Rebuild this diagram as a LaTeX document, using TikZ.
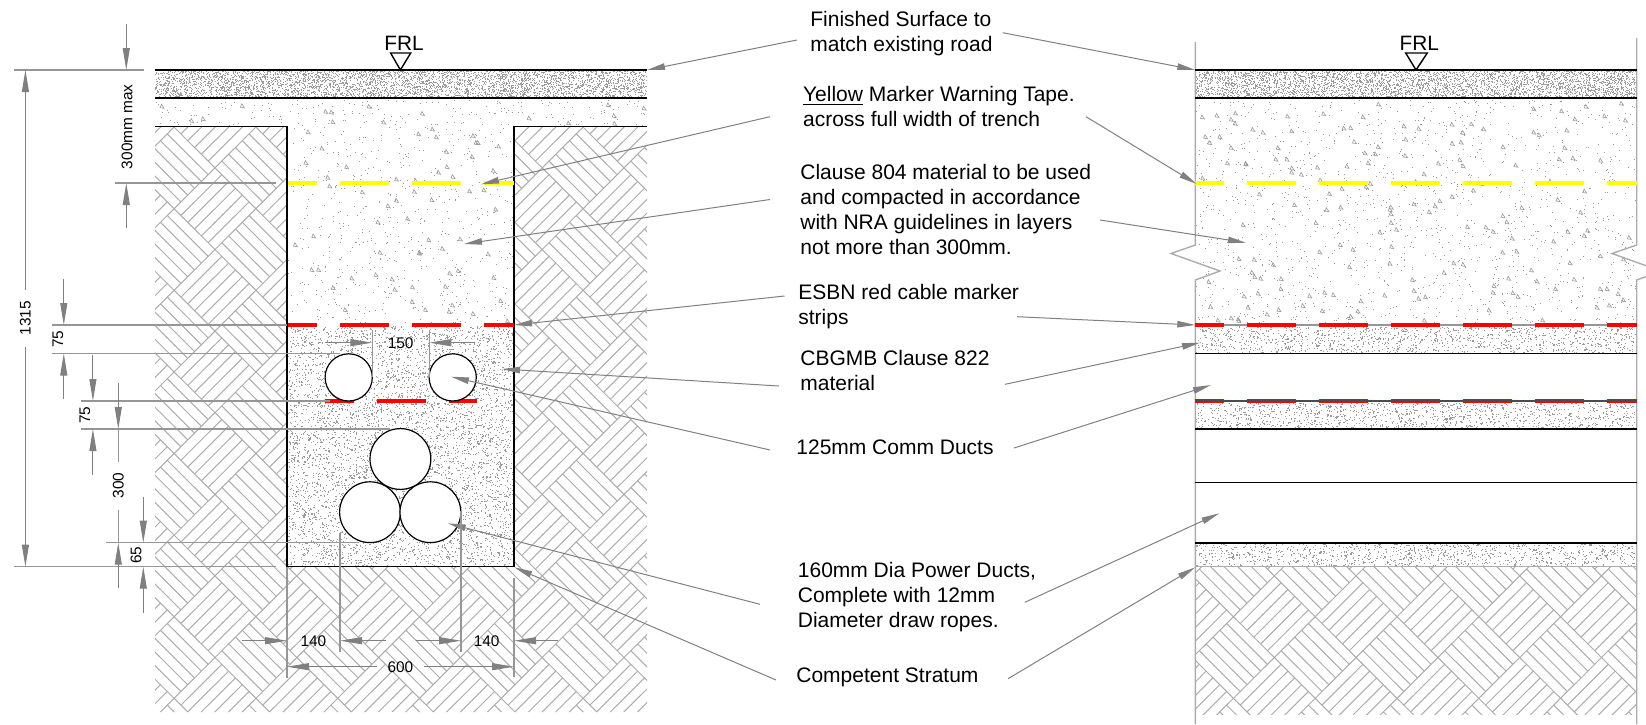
\documentclass[tikz,border=0pt]{standalone}
\usepackage{fontspec}
\usepackage{color}
\usetikzlibrary{arrows.meta}
\setmainfont{Liberation Sans}
\definecolor{hatchgrey}{RGB}{172,172,172}
\definecolor{leadgrey}{RGB}{128,128,128}
\definecolor{extgrey}{RGB}{150,150,150}
\definecolor{speckgrey}{RGB}{155,155,155}
\definecolor{tapeyellow}{RGB}{255,255,0}
\definecolor{tapered}{RGB}{255,0,0}

\tikzset{
	noteline/.style={leadgrey,line width=.5pt,-{Triangle[length=9pt,width=3.2pt]}},
	dimline/.style={leadgrey,line width=.5pt,-{Triangle[length=11pt,width=3.5pt]}},
	extline/.style={extgrey,line width=.65pt},
	wallline/.style={black,line width=.7pt},
	roadline/.style={black,line width=.95pt},
	sideline/.style={hatchgrey,line width=.7pt},
	tape/.style={line width=2pt,dash pattern=on 24.5pt off 11.5pt,dash phase=10pt},
	duct/.style={draw=black,fill=white,circle,line width=.6pt,inner sep=0pt},
	note/.style={anchor=west,align=left,inner sep=0pt,font=\fontsize{10.5}{12.5}\selectfont},
	dimtext/.style={inner sep=0pt,font=\fontsize{7.7}{9}\selectfont},
	levelmark/.style={inner sep=0pt,font=\fontsize{10.4}{12}\selectfont}
}

% #5 is the number of batches of 100 dots
\newcommand{\speckle}[6]{\foreach \j in {1,...,#5}{\draw[speckgrey,line width=#6*.5pt] \foreach \i in {1,...,100}{({#1+rnd*#3},{#2+rnd*#4}) -- ++(#6,0)};}}
\newcommand{\pebbles}[5]{\draw[speckgrey,line width=.3pt] \foreach \i in {1,...,#5}{({#1+rnd*#3},{#2+rnd*#4}) -- ++(4,.6) -- ++(-2.6,-4) -- cycle};}
\newcommand{\earthblocks}[6]{\foreach \k in {#3,...,#4}{\foreach \m in {#5,...,#6}{\draw[hatchgrey,line width=.5pt] \foreach \i in {0,...,6}{
	({#1+81.8*\k-40.9+6.817*\i},{#2+81.6*\m+6.8*\i}) -- ++(40.9,-40.8)
	({#1+81.8*\k+40.9-6.817*\i},{#2+81.6*\m+6.8*\i}) -- ++(40.9,40.8)
};}}}

\begin{document}
\begin{tikzpicture}[x=.5pt,y=-.5pt]
	\useasboundingbox (0,0) rectangle (1646,724);
	\pgfmathsetseed{7}

	% fill of the two sections
	\speckle{155}{71}{491}{27}{46}{1}
	\speckle{1195}{71}{440}{27}{41}{1}
	\speckle{288}{326}{225}{240}{56}{1.1}
	\speckle{1196}{327}{439}{26}{12}{1.1}
	\speckle{1196}{403}{439}{26}{12}{1.1}
	\speckle{1196}{544}{439}{22}{10}{1.1}
	\speckle{155}{100}{491}{26}{2}{.9}
	\speckle{288}{127}{225}{198}{6}{.9}
	\speckle{1196}{100}{439}{225}{14}{.9}
	\pebbles{155}{104}{488}{22}{16}
	\pebbles{290}{127}{218}{196}{60}
	\pebbles{1198}{104}{432}{220}{170}

	% ground
	\begin{scope}
		\clip (155,127) -- (287,127) -- (287,567) -- (514,567) -- (514,127) -- (647,127) -- (647,712) -- (155,712) -- cycle;
		\earthblocks{215}{616.7}{-1}{5}{-6}{1}
	\end{scope}
	\begin{scope}
		\clip (1195.3,567) rectangle (1636.7,714);
		\earthblocks{1274.3}{616.7}{-1}{4}{-1}{1}
	\end{scope}

	% left section
	\coordinate (roadA) at (155,70);
	\coordinate (roadB) at (647,70);
	\coordinate (baseA) at (155,98.4);
	\coordinate (baseB) at (647,98.4);
	\coordinate (cutA) at (155,126.7);
	\coordinate (cutB) at (287,126.7);
	\coordinate (cutC) at (287,566.7);
	\coordinate (cutD) at (514,566.7);
	\coordinate (cutE) at (514,126.7);
	\coordinate (cutF) at (647,126.7);
	\draw[roadline] (roadA) -- (roadB);
	\draw[roadline] (baseA) -- (baseB);
	\draw[wallline] (cutA) -- (cutB) -- (cutC) -- (cutD) -- (cutE) -- (cutF);

	\coordinate (yelA) at (288,183);
	\coordinate (yelB) at (514,183);
	\coordinate (redA) at (288,325);
	\coordinate (redB) at (514,325);
	\coordinate (redC) at (325,401);
	\coordinate (redD) at (477,401);
	\draw[tape,tapeyellow] (yelA) -- (yelB);
	\draw[tape,tapered] (redA) -- (redB);
	\draw[tape,tapered] (redC) -- (redD);

	\node[duct,minimum size=23.6pt] (commA) at (348.7,377.4){};
	\node[duct,minimum size=23.6pt] (commB) at (452.7,377.4){};
	\node[duct,minimum size=30.4pt] (powerA) at (400.4,459){};
	\node[duct,minimum size=30.4pt] (powerB) at (370,512.2){};
	\node[duct,minimum size=30.4pt] (powerC) at (430.4,512.2){};

	\coordinate (frlA) at (390.6,53);
	\coordinate (frlB) at (410.7,53);
	\coordinate (frlC) at (400.4,70);
	\draw[black,line width=.7pt,line join=miter] (frlA) -- (frlB) -- (frlC) -- cycle;
	\node[levelmark] (frlLeft) at (404,43.3) {FRL};

	% right section
	\coordinate (sideA) at (1195.3,42);
	\coordinate (sideB) at (1195.3,245);
	\coordinate (sideC) at (1171,253.5);
	\coordinate (sideD) at (1220,271);
	\coordinate (sideE) at (1195.3,280);
	\coordinate (sideF) at (1195.3,724);
	\coordinate (sideG) at (1636.7,38);
	\coordinate (sideH) at (1636.7,245);
	\coordinate (sideI) at (1612,253.5);
	\coordinate (sideJ) at (1646,265.7);
	\coordinate (sideK) at (1646,276.6);
	\coordinate (sideL) at (1636.7,280);
	\coordinate (sideM) at (1636.7,724);
	\draw[sideline] (sideA) -- (sideB) -- (sideC) -- (sideD) -- (sideE) -- (sideF);
	\draw[sideline] (sideG) -- (sideH) -- (sideI) -- (sideJ);
	\draw[sideline] (sideK) -- (sideL) -- (sideM);

	\coordinate (layA1) at (1195.3,70);
	\coordinate (layA2) at (1636.7,70);
	\coordinate (layB1) at (1195.3,98.4);
	\coordinate (layB2) at (1636.7,98.4);
	\coordinate (layC1) at (1195.3,353.5);
	\coordinate (layC2) at (1636.7,353.5);
	\coordinate (layD1) at (1195.3,401);
	\coordinate (layD2) at (1636.7,401);
	\coordinate (layE1) at (1195.3,429);
	\coordinate (layE2) at (1636.7,429);
	\coordinate (layF1) at (1195.3,482.3);
	\coordinate (layF2) at (1636.7,482.3);
	\coordinate (layG1) at (1195.3,542.7);
	\coordinate (layG2) at (1636.7,542.7);
	\coordinate (layH1) at (1195.3,566.7);
	\coordinate (layH2) at (1636.7,566.7);
	\coordinate (layI1) at (1195.3,325);
	\coordinate (layI2) at (1636.7,325);
	\coordinate (layJ1) at (1195.3,183);
	\coordinate (layJ2) at (1636.7,183);
	\draw[roadline] (layA1) -- (layA2);
	\draw[roadline] (layB1) -- (layB2);
	\draw[extline] (layI1) -- (layI2);
	\draw[wallline] (layC1) -- (layC2);
	\draw[wallline] (layE1) -- (layE2);
	\draw[wallline] (layF1) -- (layF2);
	\draw[roadline] (layG1) -- (layG2);
	\draw[sideline] (layH1) -- (layH2);
	\draw[tape,tapeyellow] (layJ1) -- (layJ2);
	\draw[tape,tapered] (layI1) -- (layI2);
	\draw[tape,tapered] (layD1) -- (layD2);
	\draw[black!70,line width=.7pt] (layD1) -- (layD2);

	\coordinate (frlD) at (1405.7,53);
	\coordinate (frlE) at (1427.3,53);
	\coordinate (frlF) at (1416,70);
	\draw[black,line width=.7pt,line join=miter] (frlD) -- (frlE) -- (frlF) -- cycle;
	\node[levelmark] (frlRight) at (1419.3,43.3) {FRL};

	% notes
	\node[note] (noteSurface) at (810,33.5) {Finished Surface to\\match existing road};
	\node[note] (noteYellow) at (802.7,106.5) {\underline{Yellow} Marker Warning Tape.\\across full width of trench};
	\node[note] (noteClause) at (800,209.5) {Clause 804 material to be used\\and compacted in accordance\\with NRA guidelines in layers\\not more than 300mm.};
	\node[note] (noteRed) at (798,306.5) {ESBN red cable marker\\strips};
	\node[note] (noteCbgmb) at (800,370.7) {CBGMB Clause 822\\material};
	\node[note] (noteComm) at (796,447.7) {125mm Comm Ducts};
	\node[note] (notePower) at (797.5,597) {160mm Dia Power Ducts,\\Complete with 12mm\\Diameter draw ropes.};
	\node[note] (noteStratum) at (796,677) {Competent Stratum};

	% leaders, left hand then right hand
	\coordinate (lA) at (797,40);
	\coordinate (lB) at (770,116.7);
	\coordinate (lC) at (770,199.5);
	\coordinate (lD) at (784.5,296);
	\coordinate (lE) at (779,386);
	\coordinate (lF) at (770,450);
	\coordinate (lG) at (760,604.3);
	\coordinate (lH) at (776,680);
	\coordinate (rA) at (1002.7,32.7);
	\coordinate (rB) at (1086,116.7);
	\coordinate (rC) at (1100,220);
	\coordinate (rD) at (1017,316.7);
	\coordinate (rE) at (1005,384.3);
	\coordinate (rF) at (1014,448);
	\coordinate (rG) at (1024.8,602.3);
	\coordinate (rH) at (1008,678.7);
	\coordinate (tipA) at (647,70);
	\coordinate (tipB) at (481,184.3);
	\coordinate (tipC) at (464,244);
	\coordinate (tipD) at (514,325);
	\coordinate (tipE) at (502,369);
	\coordinate (tipF) at (451,376.7);
	\coordinate (tipG) at (447.8,523.3);
	\coordinate (tipH) at (514.3,567.3);
	\coordinate (tipI) at (1195.3,70);
	\coordinate (tipJ) at (1196.7,184);
	\coordinate (tipK) at (1246,242.7);
	\coordinate (tipL) at (1195.3,325);
	\coordinate (tipM) at (1200,342.7);
	\coordinate (tipN) at (1211,385);
	\coordinate (tipO) at (1219.3,513.3);
	\coordinate (tipP) at (1195.3,567.3);
	\draw[noteline] (lA) -- (tipA);
	\draw[noteline] (lB) -- (tipB);
	\draw[noteline] (lC) -- (tipC);
	\draw[noteline] (lD) -- (tipD);
	\draw[noteline] (lE) -- (tipE);
	\draw[noteline] (lF) -- (tipF);
	\draw[noteline] (lG) -- (tipG);
	\draw[noteline] (lH) -- (tipH);
	\draw[noteline] (rA) -- (tipI);
	\draw[noteline] (rB) -- (tipJ);
	\draw[noteline] (rC) -- (tipK);
	\draw[noteline] (rD) -- (tipL);
	\draw[noteline] (rE) -- (tipM);
	\draw[noteline] (rF) -- (tipN);
	\draw[noteline] (rG) -- (tipO);
	\draw[noteline] (rH) -- (tipP);

	% extension lines
	\coordinate (eA1) at (14,70);
	\coordinate (eA2) at (144,70);
	\coordinate (eB1) at (115,183);
	\coordinate (eB2) at (276,183);
	\coordinate (eC1) at (52,325);
	\coordinate (eC2) at (287,325);
	\coordinate (eD1) at (52,353.5);
	\coordinate (eD2) at (340,353.5);
	\coordinate (eE1) at (81,401);
	\coordinate (eE2) at (330,401);
	\coordinate (eF1) at (81,429);
	\coordinate (eF2) at (390,429);
	\coordinate (eG1) at (106,542.7);
	\coordinate (eG2) at (359,542.7);
	\coordinate (eH1) at (14,566.7);
	\coordinate (eH2) at (276,566.7);
	\coordinate (eI1) at (287,566.7);
	\coordinate (eI2) at (287,678);
	\coordinate (eJ1) at (340,533);
	\coordinate (eJ2) at (340,651.7);
	\coordinate (eK1) at (461,511);
	\coordinate (eK2) at (461,651.7);
	\coordinate (eL1) at (514,578);
	\coordinate (eL2) at (514,676.7);
	\coordinate (eM1) at (372.3,330);
	\coordinate (eM2) at (372.3,377);
	\coordinate (eN1) at (429.3,330);
	\coordinate (eN2) at (429.3,377);
	\foreach \a/\b in {eA1/eA2,eB1/eB2,eC1/eC2,eD1/eD2,eE1/eE2,eF1/eF2,eG1/eG2,eH1/eH2,eI1/eI2,eJ1/eJ2,eK1/eK2,eL1/eL2,eM1/eM2,eN1/eN2}
		\draw[extline] (\a) -- (\b);

	% vertical dimensions
	\coordinate (dA1) at (126.3,24);
	\coordinate (dA2) at (126.3,70);
	\coordinate (dA3) at (126.3,228);
	\coordinate (dA4) at (126.3,183);
	\draw[dimline] (dA1) -- (dA2);
	\draw[dimline] (dA3) -- (dA4);
	\node[dimtext,rotate=90] (dimMax) at (127,126.7) {300mm max};

	\coordinate (dB1) at (25.4,290);
	\coordinate (dB2) at (25.4,70);
	\coordinate (dB3) at (25.4,347);
	\coordinate (dB4) at (25.4,566.7);
	\draw[dimline] (dB1) -- (dB2);
	\draw[dimline] (dB3) -- (dB4);
	\node[dimtext,rotate=90] (dimTotal) at (25.4,318) {1315};

	\coordinate (dC1) at (63.8,279.3);
	\coordinate (dC2) at (63.8,325);
	\coordinate (dC3) at (63.8,399);
	\coordinate (dC4) at (63.8,353.5);
	\draw[dimline] (dC1) -- (dC2);
	\draw[dimline] (dC3) -- (dC4);
	\node[dimtext,rotate=90] (dimUpper) at (58,339) {75};

	\coordinate (dD1) at (92.9,355);
	\coordinate (dD2) at (92.9,401);
	\coordinate (dD3) at (92.9,475);
	\coordinate (dD4) at (92.9,429);
	\draw[dimline] (dD1) -- (dD2);
	\draw[dimline] (dD3) -- (dD4);
	\node[dimtext,rotate=90] (dimLower) at (85,415) {75};

	\coordinate (dE1) at (118.3,383.3);
	\coordinate (dE2) at (118.3,429);
	\coordinate (dE3) at (118.3,461.7);
	\coordinate (dE4) at (118.3,510);
	\coordinate (dE5) at (118.3,588);
	\coordinate (dE6) at (118.3,542.7);
	\draw[dimline] (dE1) -- (dE2);
	\draw[extline] (dE2) -- (dE3);
	\draw[extline] (dE4) -- (dE6);
	\draw[dimline] (dE5) -- (dE6);
	\node[dimtext,rotate=90] (dimPower) at (118.3,485.7) {300};

	\coordinate (dF1) at (143.3,496.7);
	\coordinate (dF2) at (143.3,542.7);
	\coordinate (dF3) at (143.3,612.7);
	\coordinate (dF4) at (143.3,566.7);
	\draw[dimline] (dF1) -- (dF2);
	\draw[dimline] (dF3) -- (dF4);
	\node[dimtext,rotate=90] (dimCover) at (136,555) {65};

	% horizontal dimensions
	\coordinate (dG1) at (241.5,640.7);
	\coordinate (dG2) at (287,640.7);
	\coordinate (dG3) at (386,640.7);
	\coordinate (dG4) at (340,640.7);
	\draw[dimline] (dG1) -- (dG2);
	\draw[dimline] (dG3) -- (dG4);
	\node[dimtext] (dimSideA) at (313.4,640.7) {140};

	\coordinate (dH1) at (416,640.7);
	\coordinate (dH2) at (461,640.7);
	\coordinate (dH3) at (558,640.7);
	\coordinate (dH4) at (514,640.7);
	\draw[dimline] (dH1) -- (dH2);
	\draw[dimline] (dH3) -- (dH4);
	\node[dimtext] (dimSideB) at (486.6,640.7) {140};

	\coordinate (dI1) at (377,666.7);
	\coordinate (dI2) at (287,666.7);
	\coordinate (dI3) at (424,666.7);
	\coordinate (dI4) at (514,666.7);
	\draw[dimline] (dI1) -- (dI2);
	\draw[dimline] (dI3) -- (dI4);
	\node[dimtext] (dimWidth) at (400.4,666.7) {600};

	\coordinate (dJ1) at (325,342.7);
	\coordinate (dJ2) at (372.3,342.7);
	\coordinate (dJ3) at (475,342.7);
	\coordinate (dJ4) at (429.3,342.7);
	\draw[dimline] (dJ1) -- (dJ2);
	\draw[dimline] (dJ3) -- (dJ4);
	\node[dimtext] (dimGap) at (400.7,342.7) {150};
\end{tikzpicture}
\end{document}
